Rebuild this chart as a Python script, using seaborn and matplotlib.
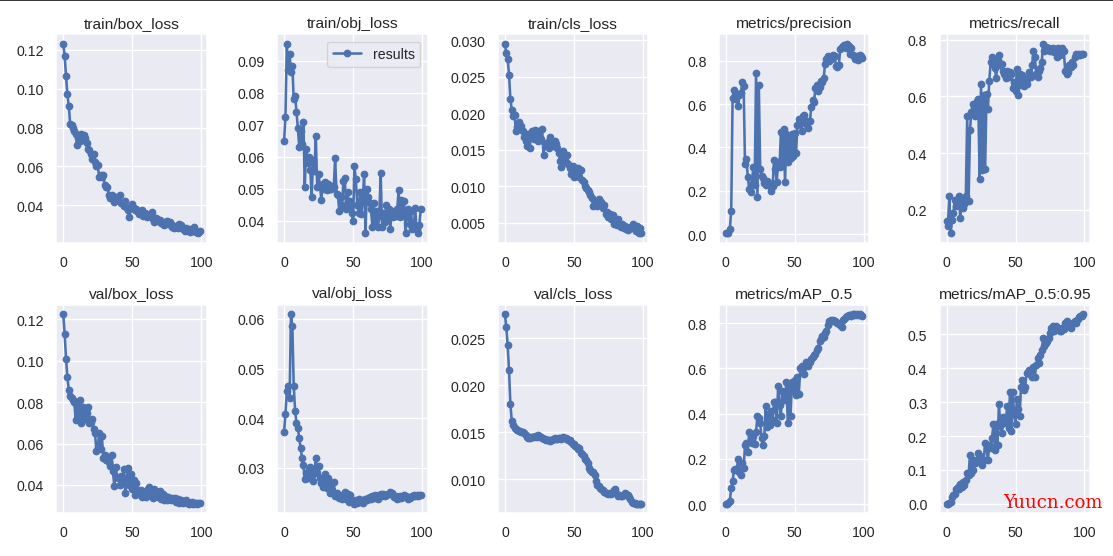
import numpy as np
import pandas as pd
import seaborn as sns
import matplotlib
matplotlib.use("Agg")
import matplotlib.pyplot as plt
from matplotlib.lines import Line2D

epochs = list(range(100))

titles = ['train/box_loss', 'train/obj_loss', 'train/cls_loss', 'metrics/precision', 'metrics/recall',
          'val/box_loss', 'val/obj_loss', 'val/cls_loss', 'metrics/mAP_0.5', 'metrics/mAP_0.5:0.95']

train_box = [0.123, 0.117, 0.1065, 0.097, 0.091, 0.082, 0.0815, 0.0795, 0.078, 0.0765,
             0.071, 0.0745, 0.073, 0.0765, 0.0735, 0.076, 0.0745, 0.072, 0.069, 0.0685,
             0.0665, 0.064, 0.0665, 0.0625, 0.060, 0.0605, 0.0545, 0.0555, 0.0545, 0.0555,
             0.0505, 0.0495, 0.0495, 0.0455, 0.0435, 0.0455, 0.0445, 0.0415, 0.0445, 0.0425,
             0.044, 0.0455, 0.041, 0.0405, 0.0395, 0.042, 0.0385, 0.0375, 0.034, 0.0395,
             0.0405, 0.0385, 0.0375, 0.038, 0.0365, 0.0355, 0.037, 0.0375, 0.0345, 0.036,
             0.0355, 0.034, 0.0345, 0.035, 0.0365, 0.033, 0.0315, 0.0335, 0.033, 0.032,
             0.0325, 0.031, 0.0305, 0.030, 0.0315, 0.032, 0.0305, 0.0315, 0.0305, 0.029,
             0.0285, 0.029, 0.0295, 0.0285, 0.0305, 0.030, 0.0285, 0.028, 0.027, 0.0285,
             0.0275, 0.028, 0.0265, 0.0275, 0.027, 0.029, 0.0265, 0.026, 0.0255, 0.027]

train_obj = [0.0648, 0.0725, 0.0953, 0.087, 0.092, 0.0865, 0.0885, 0.078, 0.079, 0.074,
             0.069, 0.063, 0.068, 0.064, 0.071, 0.0505, 0.0625, 0.058, 0.060, 0.056,
             0.0475, 0.059, 0.0555, 0.0665, 0.0505, 0.0545, 0.051, 0.0465, 0.0515, 0.050,
             0.052, 0.0495, 0.0515, 0.050, 0.050, 0.051, 0.0505, 0.0595, 0.0485, 0.048,
             0.043, 0.0475, 0.045, 0.0525, 0.0535, 0.0435, 0.049, 0.045, 0.046, 0.0425,
             0.040, 0.057, 0.053, 0.045, 0.0425, 0.049, 0.042, 0.0465, 0.0545, 0.036,
             0.050, 0.0475, 0.0455, 0.0435, 0.038, 0.0455, 0.040, 0.043, 0.038, 0.0415,
             0.055, 0.038, 0.0425, 0.0395, 0.045, 0.041, 0.0435, 0.0375, 0.043, 0.041,
             0.042, 0.0415, 0.0435, 0.0495, 0.041, 0.0465, 0.0425, 0.046, 0.036, 0.0415,
             0.0435, 0.039, 0.043, 0.0375, 0.038, 0.044, 0.0375, 0.036, 0.0385, 0.0435]

train_cls = [0.0295, 0.0283, 0.0275, 0.0253, 0.0219, 0.0205, 0.0196, 0.0198, 0.0176, 0.0181,
             0.0188, 0.0178, 0.0183, 0.0175, 0.0168, 0.0162, 0.0155, 0.0172, 0.0152, 0.0170,
             0.0175, 0.0165, 0.0177, 0.0170, 0.0162, 0.0175, 0.0165, 0.0178, 0.0143, 0.0158,
             0.0155, 0.0160, 0.0152, 0.0168, 0.0162, 0.0155, 0.0162, 0.0158, 0.0152, 0.0146,
             0.0135, 0.0126, 0.0148, 0.0140, 0.0133, 0.0142, 0.0130, 0.0125, 0.0116, 0.0128,
             0.0112, 0.0125, 0.0118, 0.0125, 0.0112, 0.0122, 0.0108, 0.0106, 0.0100, 0.0097,
             0.0095, 0.0092, 0.0088, 0.0084, 0.0072, 0.0078, 0.0075, 0.0072, 0.0082, 0.0075,
             0.0078, 0.0070, 0.0074, 0.0062, 0.0065, 0.0058, 0.0062, 0.0055, 0.0060, 0.0048,
             0.0052, 0.0046, 0.0055, 0.0050, 0.0044, 0.0048, 0.0042, 0.0045, 0.0041, 0.0040,
             0.0043, 0.0044, 0.0042, 0.0048, 0.0044, 0.0038, 0.0045, 0.0035, 0.0042, 0.0035]

precision = [0.003, 0.003, 0.005, 0.025, 0.105, 0.63, 0.665, 0.625, 0.645, 0.59,
             0.64, 0.65, 0.70, 0.685, 0.325, 0.345, 0.265, 0.21, 0.195, 0.23,
             0.31, 0.225, 0.745, 0.17, 0.69, 0.30, 0.27, 0.26, 0.235, 0.225,
             0.245, 0.24, 0.22, 0.20, 0.22, 0.34, 0.30, 0.24, 0.335, 0.31,
             0.47, 0.315, 0.485, 0.24, 0.46, 0.335, 0.455, 0.35, 0.46, 0.36,
             0.465, 0.375, 0.505, 0.53, 0.52, 0.475, 0.545, 0.55, 0.51, 0.52,
             0.49, 0.52, 0.585, 0.62, 0.61, 0.675, 0.69, 0.66, 0.68, 0.705,
             0.70, 0.72, 0.785, 0.81, 0.82, 0.80, 0.81, 0.815, 0.825, 0.82,
             0.775, 0.77, 0.78, 0.855, 0.865, 0.87, 0.875, 0.86, 0.878, 0.87,
             0.83, 0.86, 0.825, 0.82, 0.81, 0.82, 0.805, 0.825, 0.82, 0.815]

recall = [0.16, 0.145, 0.248, 0.117, 0.165, 0.19, 0.235, 0.215, 0.24, 0.25,
          0.17, 0.24, 0.205, 0.22, 0.25, 0.53, 0.23, 0.48, 0.545, 0.575,
          0.55, 0.53, 0.585, 0.59, 0.31, 0.645, 0.34, 0.605, 0.345, 0.61,
          0.555, 0.655, 0.72, 0.74, 0.715, 0.70, 0.665, 0.73, 0.745, 0.71,
          0.715, 0.69, 0.68, 0.665, 0.69, 0.67, 0.685, 0.68, 0.63, 0.65,
          0.62, 0.695, 0.605, 0.68, 0.64, 0.675, 0.635, 0.66, 0.645, 0.665,
          0.685, 0.67, 0.71, 0.76, 0.74, 0.68, 0.67, 0.69, 0.70, 0.72,
          0.785, 0.76, 0.775, 0.765, 0.77, 0.76, 0.765, 0.77, 0.755, 0.765,
          0.74, 0.77, 0.745, 0.765, 0.77, 0.76, 0.69, 0.68, 0.685, 0.71,
          0.705, 0.72, 0.71, 0.74, 0.75, 0.745, 0.75, 0.745, 0.75, 0.75]

val_box = [0.1225, 0.113, 0.101, 0.092, 0.086, 0.083, 0.082, 0.081, 0.080, 0.0715,
           0.078, 0.0725, 0.081, 0.070, 0.0775, 0.072, 0.0765, 0.0745, 0.0775, 0.070,
           0.0705, 0.072, 0.067, 0.065, 0.0565, 0.058, 0.065, 0.0575, 0.0635, 0.053,
           0.0545, 0.052, 0.0535, 0.051, 0.049, 0.0545, 0.0465, 0.0395, 0.0485, 0.044,
           0.0435, 0.040, 0.0445, 0.042, 0.0475, 0.036, 0.0435, 0.048, 0.040, 0.0455,
           0.038, 0.0425, 0.035, 0.041, 0.0375, 0.0355, 0.0375, 0.034, 0.0355, 0.036,
           0.034, 0.0375, 0.039, 0.035, 0.0365, 0.0335, 0.038, 0.0345, 0.0365, 0.034,
           0.037, 0.033, 0.0355, 0.0325, 0.0345, 0.0325, 0.034, 0.033, 0.0325, 0.0335,
           0.0325, 0.0335, 0.032, 0.033, 0.0315, 0.0325, 0.032, 0.0315, 0.032, 0.0325,
           0.0315, 0.031, 0.0315, 0.032, 0.031, 0.0315, 0.0315, 0.031, 0.0315, 0.0315]

val_obj = [0.0373, 0.0408, 0.0455, 0.0465, 0.044, 0.0610, 0.0585, 0.0465, 0.0415, 0.039,
           0.038, 0.036, 0.034, 0.032, 0.0305, 0.0278, 0.029, 0.028, 0.0295, 0.0302,
           0.0285, 0.0273, 0.029, 0.032, 0.029, 0.0303, 0.028, 0.027, 0.0262, 0.0275,
           0.0287, 0.026, 0.028, 0.025, 0.027, 0.0255, 0.0272, 0.0243, 0.025, 0.0245,
           0.024, 0.0243, 0.0238, 0.0245, 0.0252, 0.0238, 0.0248, 0.0232, 0.0245, 0.0235,
           0.0232, 0.0228, 0.0235, 0.023, 0.0238, 0.0232, 0.0235, 0.023, 0.0233, 0.0238,
           0.0235, 0.024, 0.0242, 0.0238, 0.0243, 0.024, 0.0245, 0.0242, 0.0238, 0.0245,
           0.0248, 0.0243, 0.0247, 0.0243, 0.0245, 0.0248, 0.0247, 0.0252, 0.025, 0.0245,
           0.0242, 0.0243, 0.0238, 0.024, 0.0243, 0.024, 0.0242, 0.0245, 0.0243, 0.0242,
           0.0238, 0.024, 0.0242, 0.0243, 0.0245, 0.0244, 0.0245, 0.0244, 0.0246, 0.0245]

val_cls = [0.0276, 0.0262, 0.0243, 0.0216, 0.0180, 0.0162, 0.0158, 0.0155, 0.0154, 0.0152,
           0.0151, 0.0151, 0.0150, 0.0150, 0.0149, 0.0147, 0.0145, 0.0144, 0.0144, 0.0145,
           0.0145, 0.0145, 0.0146, 0.0145, 0.0147, 0.0146, 0.0145, 0.0144, 0.0143, 0.0143,
           0.0142, 0.0142, 0.0142, 0.0141, 0.0142, 0.0143, 0.0144, 0.0143, 0.0143, 0.0144,
           0.0144, 0.0143, 0.0145, 0.0144, 0.0144, 0.0143, 0.0142, 0.0142, 0.0140, 0.0138,
           0.0137, 0.0135, 0.0134, 0.0132, 0.0133, 0.0128, 0.0127, 0.0125, 0.0122, 0.0120,
           0.0117, 0.0112, 0.0110, 0.0108, 0.0108, 0.0104, 0.0098, 0.0094, 0.0093, 0.0091,
           0.0090, 0.0088, 0.0086, 0.0085, 0.0085, 0.0084, 0.0085, 0.0084, 0.0086, 0.0089,
           0.0090, 0.0084, 0.0082, 0.0083, 0.0082, 0.0082, 0.0083, 0.0085, 0.0084, 0.0083,
           0.0081, 0.0079, 0.0076, 0.0075, 0.0075, 0.0074, 0.0074, 0.0074, 0.0074, 0.0074]

map50 = [0.002, 0.002, 0.005, 0.015, 0.07, 0.10, 0.15, 0.155, 0.15, 0.20,
         0.14, 0.13, 0.18, 0.16, 0.26, 0.27, 0.23, 0.32, 0.28, 0.27,
         0.30, 0.265, 0.32, 0.39, 0.38, 0.36, 0.29, 0.26, 0.30, 0.435,
         0.34, 0.40, 0.35, 0.41, 0.37, 0.45, 0.45, 0.36, 0.52, 0.44,
         0.39, 0.50, 0.46, 0.48, 0.54, 0.36, 0.52, 0.39, 0.54, 0.50,
         0.55, 0.48, 0.56, 0.485, 0.60, 0.61, 0.60, 0.575, 0.63, 0.62,
         0.61, 0.63, 0.64, 0.65, 0.66, 0.665, 0.68, 0.69, 0.72, 0.73,
         0.745, 0.74, 0.755, 0.765, 0.79, 0.81, 0.815, 0.81, 0.815, 0.81,
         0.805, 0.80, 0.795, 0.79, 0.785, 0.815, 0.82, 0.825, 0.83, 0.835,
         0.835, 0.83, 0.84, 0.84, 0.835, 0.84, 0.835, 0.84, 0.835, 0.83]

map50_95 = [0.001, 0.001, 0.002, 0.005, 0.02, 0.025, 0.03, 0.045, 0.05, 0.045,
            0.06, 0.05, 0.065, 0.055, 0.07, 0.09, 0.085, 0.145, 0.09, 0.10,
            0.13, 0.12, 0.125, 0.15, 0.14, 0.13, 0.115, 0.13, 0.18, 0.165,
            0.13, 0.175, 0.165, 0.195, 0.235, 0.16, 0.235, 0.175, 0.295, 0.23,
            0.21, 0.255, 0.24, 0.245, 0.29, 0.225, 0.33, 0.215, 0.33, 0.265,
            0.235, 0.31, 0.28, 0.26, 0.345, 0.365, 0.335, 0.345, 0.385, 0.39,
            0.395, 0.38, 0.375, 0.405, 0.375, 0.41, 0.43, 0.415, 0.44, 0.455,
            0.49, 0.465, 0.475, 0.48, 0.49, 0.505, 0.52, 0.525, 0.51, 0.525,
            0.52, 0.52, 0.51, 0.51, 0.52, 0.515, 0.535, 0.54, 0.525, 0.53,
            0.52, 0.53, 0.535, 0.54, 0.535, 0.545, 0.55, 0.555, 0.555, 0.56]

series = [train_box, train_obj, train_cls, precision, recall,
          val_box, val_obj, val_cls, map50, map50_95]

sns.set()
plt.rcParams['font.family'] = ['Liberation Sans', 'DejaVu Sans']
blue = sns.color_palette()[0]

fig, ax = plt.subplots(2, 5, figsize=(12, 6.005), dpi=92.75)
ax = ax.ravel()

for i, (name, vals) in enumerate(zip(titles, series)):
    df = pd.DataFrame({'epoch': epochs, 'value': vals})
    sns.lineplot(data=df, x='epoch', y='value', ax=ax[i], marker='o', markersize=5, linewidth=2,
                 color=blue, markeredgecolor=blue, markeredgewidth=1.0,
                 label='results' if i == 1 else None, legend=False)
    ax[i].set_title(name, fontsize=12)
    ax[i].set_xlabel('')
    ax[i].set_ylabel('')

ax[1].legend(loc='upper right')

fig.tight_layout()

# dark line at the very top of the screenshot
fig.add_artist(Line2D([0, 1], [0.998, 0.998], transform=fig.transFigure, color='#333333', lw=1.5))

# watermark
fig.text(0.901, 0.088, 'Yuucn.com', color='red', fontsize=14, family='DejaVu Serif')

fig.savefig('out.png', dpi=92.75)
